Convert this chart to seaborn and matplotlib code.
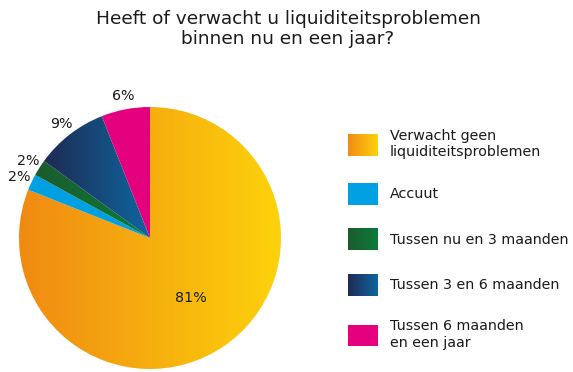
import matplotlib.pyplot as plt
import numpy as np
import seaborn as sns
from matplotlib.colors import LinearSegmentedColormap
from matplotlib.legend_handler import HandlerBase
from matplotlib.patches import Rectangle

title = "Heeft of verwacht u liquiditeitsproblemen\nbinnen nu en een jaar?"
categories = ["Verwacht geen\nliquiditeitsproblemen", "Accuut", "Tussen nu en 3 maanden",
              "Tussen 3 en 6 maanden", "Tussen 6 maanden\nen een jaar"]
shares = [81, 2, 2, 9, 6]
pct_labels = ["81%", "2%", "2%", "9%", "6%"]
# gradient colours per slice (left -> right)
grad_left = ["#f08a12", "#00a0e2", "#1c5b2d", "#1e2a52", "#e5007d"]
grad_right = ["#fdd20b", "#00a0e2", "#0a7a3a", "#0e66a0", "#e5007d"]


class GradientHandler(HandlerBase):
    """legend key drawn as a horizontal gradient made of thin strips"""
    def __init__(self, c0, c1, n=30):
        super().__init__()
        self.cmap = LinearSegmentedColormap.from_list("g", [c0, c1])
        self.n = n

    def create_artists(self, legend, orig_handle, xdescent, ydescent, width, height, fontsize, trans):
        step = width / self.n
        return [Rectangle((-xdescent + i * step, -ydescent), step * 1.05, height,
                          facecolor=self.cmap((i + 0.5) / self.n), edgecolor="none", transform=trans)
                for i in range(self.n)]


sns.set_theme(style="white")
plt.rcParams["font.family"] = ["DejaVu Sans"]

fig = plt.figure(figsize=(5.73, 3.72), dpi=100)
r_px, cx, cy = 131, 150, 372 - 238
ax = fig.add_axes([(cx - r_px) / 573, (cy - r_px) / 372, 2 * r_px / 573, 2 * r_px / 372])

wedges, texts = ax.pie(shares, labels=pct_labels, startangle=90, counterclock=False,
                       labeldistance=1.1, textprops=dict(fontsize=10.3, color="#1a1a1a"))

# fill each wedge with a horizontal gradient clipped to the wedge
for w, c0, c1 in zip(wedges, grad_left, grad_right):
    ext = w.get_path().get_extents()
    cmap = LinearSegmentedColormap.from_list("g", [c0, c1])
    im = ax.imshow(np.linspace(0, 1, 256).reshape(1, -1), cmap=cmap, aspect="auto",
                   extent=(ext.x0, ext.x1, ext.y0, ext.y1), zorder=1)
    im.set_clip_path(w)
    w.set_facecolor("none")
    w.set_edgecolor("none")

for t in texts:
    t.set_ha("center")
    t.set_va("center")

# big slice label sits inside the pie
w = wedges[0]
mid = np.deg2rad((w.theta1 + w.theta2) / 2)
texts[0].set_position((0.55 * np.cos(mid), 0.55 * np.sin(mid)))

ax.set_xlim(-1, 1)
ax.set_ylim(-1, 1)
ax.set_aspect("equal")
ax.axis("off")

fig.text(288 / 573, 1 - 29 / 372, title, ha="center", va="center", fontsize=13.3, linespacing=1.15, color="#1a1a1a")

handles = [Rectangle((0, 0), 1, 1) for _ in categories]
handler_map = {h: GradientHandler(c0, c1) for h, c0, c1 in zip(handles, grad_left, grad_right)}
fig.legend(handles, categories, handler_map=handler_map, loc="upper left",
           bbox_to_anchor=(348 / 573, 1 - 129 / 372), frameon=False, fontsize=10.3,
           handlelength=2.1, handleheight=1.96, labelspacing=1.66, handletextpad=0.84,
           borderpad=0, borderaxespad=0, labelcolor="#1a1a1a")

fig.savefig("out.png", dpi=100)
